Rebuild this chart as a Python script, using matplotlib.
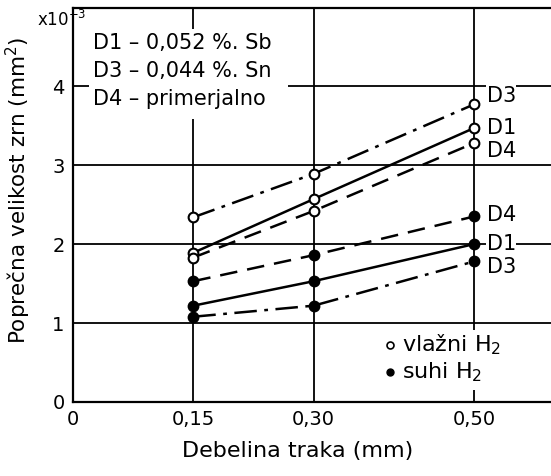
import matplotlib
matplotlib.use('Agg')
import matplotlib.pyplot as plt
from matplotlib.patches import Rectangle

plt.rcParams['font.family'] = ['DejaVu Sans']

# Podatki (debelina traka v mm, velikost zrn x10^-3 mm^2)
thickness = [0.15, 0.30, 0.50]
x_ticks = [0, 0.15, 0.30, 0.50]
x_ticklabels = ['0', '0,15', '0,30', '0,50']
y_ticks = [0, 1, 2, 3, 4]

# vlazni H2 (prazni krogci)
wet_D1 = [1.89, 2.57, 3.47]
wet_D3 = [2.34, 2.89, 3.77]
wet_D4 = [1.83, 2.42, 3.28]
# suhi H2 (polni krogci)
dry_D1 = [1.22, 1.53, 2.00]
dry_D3 = [1.08, 1.22, 1.78]
dry_D4 = [1.53, 1.86, 2.35]

styles = {'D1': '-', 'D3': (0, (9, 3, 1.5, 3)), 'D4': (0, (7, 4))}

fig = plt.figure(figsize=(5.51, 4.76), dpi=100)
ax = fig.add_axes([0.1325, 0.1555, 0.8675, 0.8275])
ax.set_xlim(0, 0.596)
ax.set_ylim(0, 4.99)

ax.set_xticks(x_ticks)
ax.set_xticklabels(x_ticklabels)
ax.set_yticks(y_ticks)
ax.tick_params(length=0, labelsize=14, pad=6)
ax.grid(True, color='black', lw=1.3)
ax.set_axisbelow(True)
for s in ['left', 'bottom', 'top']:
    ax.spines[s].set_linewidth(1.6)
ax.spines['right'].set_visible(False)

# bele ploskve za legende (prekrijejo mrezo)
ax.add_patch(Rectangle((0.02, 3.59), 0.248, 1.14, facecolor='white', edgecolor='none', zorder=1))
ax.add_patch(Rectangle((0.383, 0.15), 0.22, 0.76, facecolor='white', edgecolor='none', zorder=1))

series = [
    ('D3', wet_D3, 'white', 6),
    ('D1', wet_D1, 'white', 0),
    ('D4', wet_D4, 'white', -6),
    ('D4', dry_D4, 'black', 1),
    ('D1', dry_D1, 'black', 0),
    ('D3', dry_D3, 'black', -4),
]
for name, vals, fc, off in series:
    ax.plot(thickness, vals, color='black', lw=1.8, ls=styles[name],
            marker='o', ms=7, mfc=fc, mec='black', mew=1.5, zorder=3)
    ax.annotate(name, (thickness[-1], vals[-1]), xytext=(9, off),
                textcoords='offset points', fontsize=15, va='center', ha='left',
                bbox=dict(facecolor='white', edgecolor='none', pad=0.5), zorder=4)

ax.text(0.025, 4.68, 'D1 – 0,052 %. Sb\nD3 – 0,044 %. Sn\nD4 – primerjalno',
        fontsize=15, va='top', ha='left', linespacing=1.5, zorder=4)

ax.plot([0.395], [0.72], 'o', ms=5, mfc='white', mec='black', mew=1.2, zorder=4)
ax.plot([0.395], [0.38], 'o', ms=5, mfc='black', mec='black', zorder=4)
ax.text(0.41, 0.72, 'vlažni H$_2$', fontsize=16, va='center', ha='left', zorder=4)
ax.text(0.41, 0.38, 'suhi H$_2$', fontsize=16, va='center', ha='left', zorder=4)

ax.set_xlabel('Debelina traka (mm)', fontsize=16, labelpad=12)
ax.xaxis.set_label_coords(0.47, -0.1)
ax.set_ylabel('Poprečna velikost zrn (mm$^2$)', fontsize=15.5, labelpad=8)
ax.yaxis.set_label_coords(-0.083, 0.538)
fig.text(0.067, 0.937, r'x10$^{-3}$', fontsize=12, ha='left', va='bottom')

fig.savefig('out.png', dpi=100)
